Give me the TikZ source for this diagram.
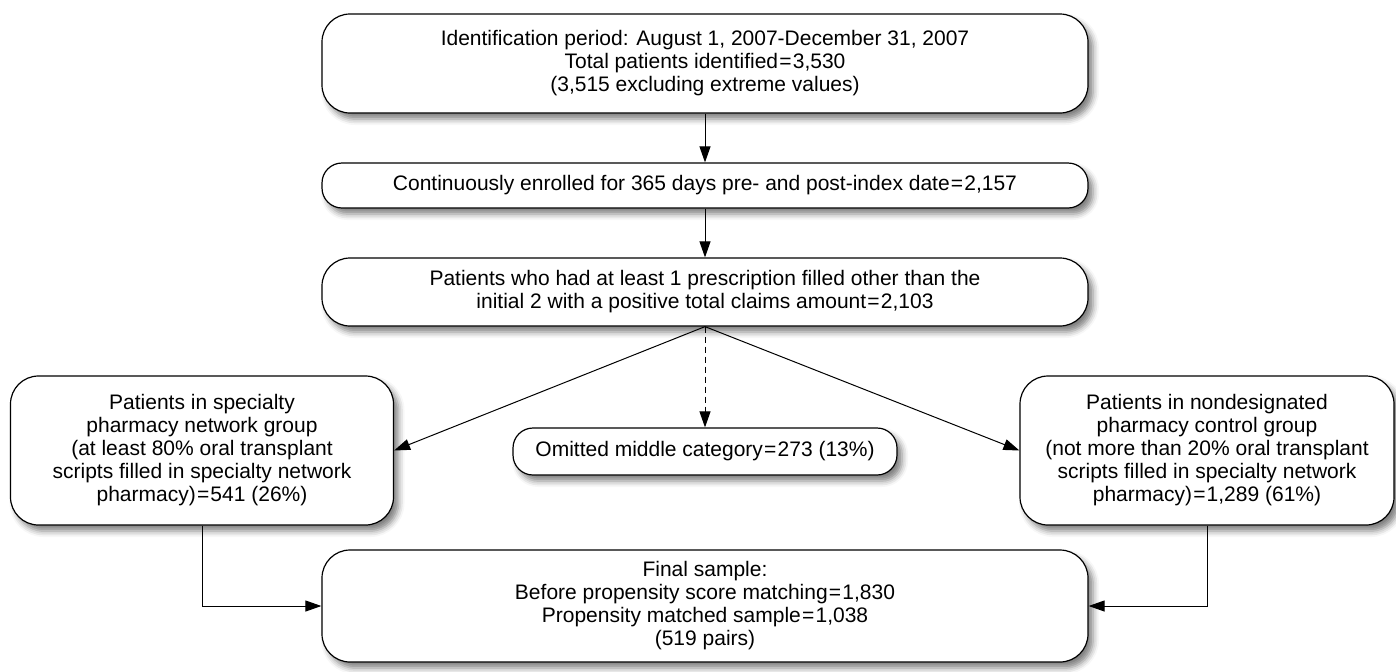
\documentclass[tikz,border=0pt]{standalone}
\usepackage{fontspec}
\setmainfont{Liberation Sans}
\usetikzlibrary{arrows.meta,shadows.blur}
\newcommand{\bang}{\kern0.6pt=\kern0.6pt}
\begin{document}
\begin{tikzpicture}[x=0.5pt,y=-0.5pt,font=\fontsize{10.5}{11.5}\selectfont,
	hop/.style={draw,line width=0.6pt,rounded corners=14pt,fill=white,align=center,inner sep=2pt,
		blur shadow={shadow xshift=2.5pt,shadow yshift=-3pt,shadow blur radius=3pt,shadow opacity=50}},
	hopnho/.style={hop,rounded corners=10pt},
	lien/.style={-{Triangle[length=8pt,width=5.5pt]},line width=0.5pt}]
	\useasboundingbox (0,0) rectangle (1396,671);
	\node[hop,minimum width=383pt,minimum height=49.5pt] (ident) at (705,63.5)
	{Identification period: August 1, 2007-December 31, 2007\\ Total patients identified\bang3,530\\ (3,515 excluding extreme values)};
	\node[hopnho,minimum width=383pt,minimum height=22.5pt] (enrol) at (705,185.5)
	{Continuously enrolled for 365 days pre- and post-index date\bang2,157};
	\node[hop,minimum width=383pt,minimum height=34pt] (presc) at (705,292)
	{Patients who had at least 1 prescription filled other than the\\ initial 2 with a positive total claims amount\bang2,103};
	\node[hop,minimum width=191.5pt,minimum height=74.5pt] (spec) at (202,450.5)
	{Patients in specialty\\ pharmacy network group\\ (at least 80\% oral transplant\\ scripts filled in specialty network\\ pharmacy)\bang541 (26\%)};
	\node[hopnho,minimum width=192pt,minimum height=23.5pt] (omit) at (705,451.5)
	{Omitted middle category\bang273 (13\%)};
	\node[hop,minimum width=187pt,minimum height=74.5pt] (ctrl) at (1207,450.5)
	{Patients in nondesignated\\ pharmacy control group\\ (not more than 20\% oral transplant\\ scripts filled in specialty network\\ pharmacy)\bang1,289 (61\%)};
	\node[hop,minimum width=383pt,minimum height=56pt] (final) at (705,606)
	{Final sample:\\ Before propensity score matching\bang1,830\\ Propensity matched sample\bang1,038\\ (519 pairs)};
	\draw[lien] (ident) -- (enrol);
	\draw[lien] (enrol) -- (presc);
	\draw[lien] (presc.south) -- (spec.east);
	\draw[lien,dash pattern=on 3pt off 2pt] (presc.south) -- (omit.north);
	\draw[lien] (presc.south) -- (ctrl.west);
	\draw[lien] (spec.south) |- (final.west);
	\draw[lien] (ctrl.south) |- (final.east);
	%so do chon mau nghien cuu
\end{tikzpicture}
\end{document}
